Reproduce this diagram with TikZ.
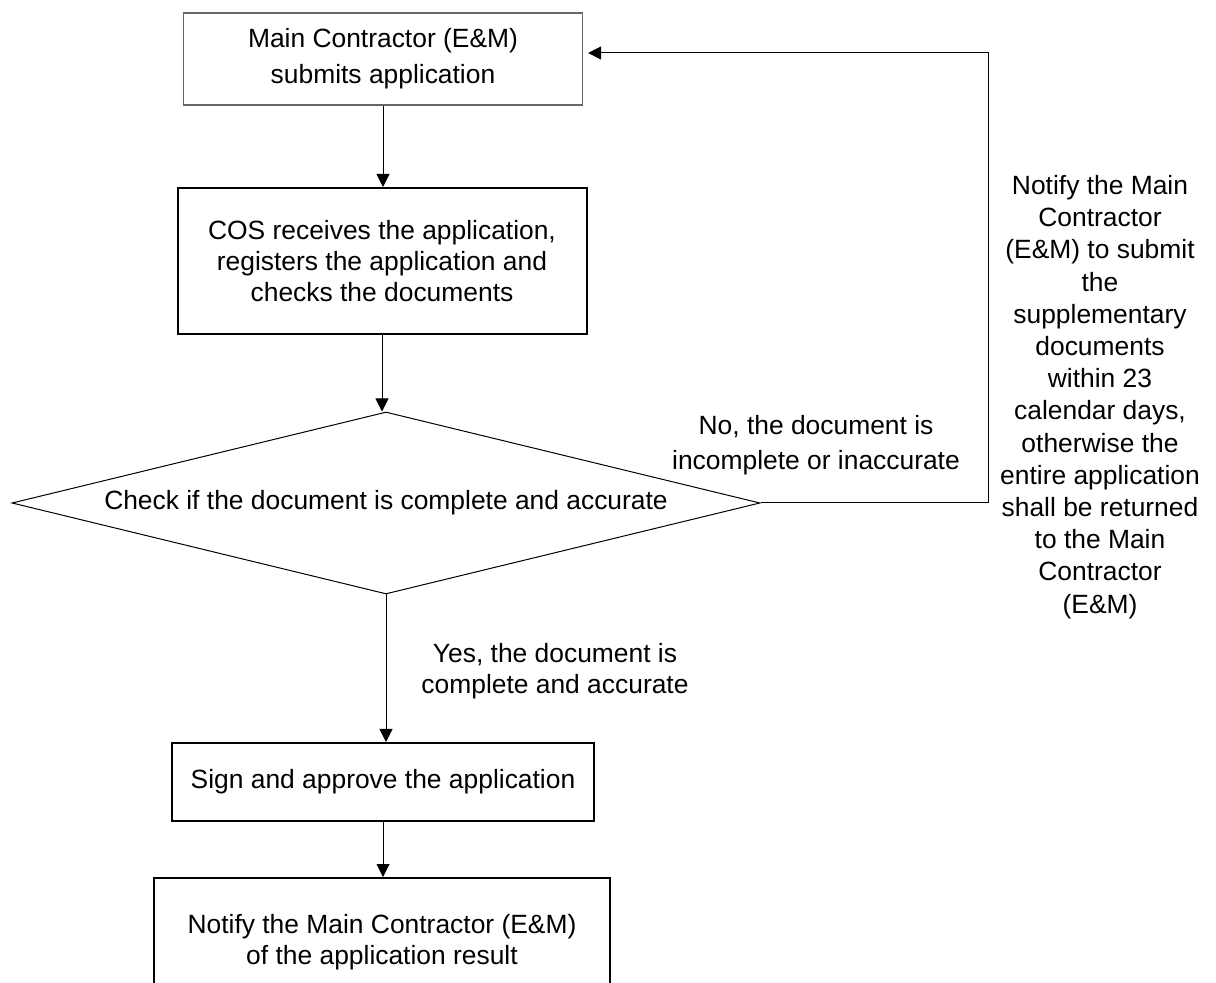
\documentclass[tikz,border=0pt]{standalone}
\usepackage{fontspec}
\setmainfont{Liberation Sans}
\usetikzlibrary{shapes.geometric,arrows.meta}
\begin{document}
\begin{tikzpicture}[x=0.5pt,y=-0.5pt,
  every node/.style={font=\fontsize{13.2pt}{15.6pt}\selectfont, align=center, inner sep=0pt},
  box/.style={draw, line width=1pt, rectangle},
  arr/.style={-{Triangle[length=6.5pt,width=6.5pt]}, line width=0.5pt}]
\useasboundingbox (0,0) rectangle (1216,983);
\clip (0,0) rectangle (1216,983);
\node[box, draw=black!60, line width=0.6pt, minimum width=199.5pt, minimum height=46pt, font=\fontsize{13.2pt}{18pt}\selectfont] (b1) at (383,59) {Main Contractor (E\&M)\\submits application};
\node[box, minimum width=204.5pt, minimum height=73pt] (b2) at (382,261) {COS receives the application,\\registers the application and\\checks the documents};
\node[diamond, draw, line width=0.5pt, aspect=4, minimum width=374pt, minimum height=91pt] (dec) at (386,503) {Check if the document is complete and accurate};
\node[box, minimum width=211pt, minimum height=39pt] (b3) at (383,782) {Sign and approve the application};
\node[box, minimum width=228pt, minimum height=64pt] (b4) at (382,942) {Notify the Main Contractor (E\&M)\\of the application result};
\node[font=\fontsize{13.2pt}{17.5pt}\selectfont] (lno) at (816,445) {No, the document is\\incomplete or inaccurate};
\node (lyes) at (555,671) {Yes, the document is\\complete and accurate};
\node[font=\fontsize{13.2pt}{16.1pt}\selectfont] (lnote) at (1100,397) {Notify the Main\\Contractor\\(E\&M) to submit\\the\\supplementary\\documents\\within 23\\calendar days,\\otherwise the\\entire application\\shall be returned\\to the Main\\Contractor\\(E\&M)};
\coordinate (c2) at (988,53);
\draw[arr] (b1.south) -- (b1.south |- b2.north);
\draw[arr] (b2.south) -- (b2.south |- dec.north);
\draw[arr] (dec.south) -- (dec.south |- b3.north);
\draw[arr] (b3.south) -- (b3.south |- b4.north);
\draw[arr, shorten >=2.5pt] (dec.east) -| (c2) -- (c2 -| b1.east);
\end{tikzpicture}
\end{document}
